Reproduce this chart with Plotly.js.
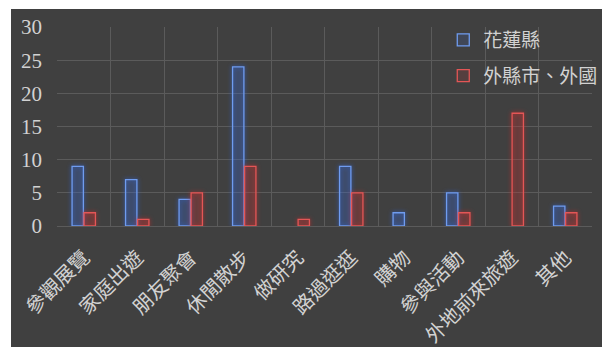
<!DOCTYPE html>
<html>
<head>
<meta charset="utf-8">
<script src="https://cdn.plot.ly/plotly-3.0.1.min.js"></script>
<style>
  html, body { margin: 0; padding: 0; background: #ffffff; overflow: hidden; }
  #chart { position: absolute; left: 11px; top: 9px; width: 630px; height: 338px; }
  /* soft glow around the outlined bars */
  .barlayer .trace:nth-child(1) .point path { filter: drop-shadow(0 0 2px #2f63d8); }
  .barlayer .trace:nth-child(2) .point path { filter: drop-shadow(0 0 2px #c42b2b); }
</style>
</head>
<body>
<div id="chart"></div>
<script>
// Purpose of the visit, by where the visitor came from
const categories = ['參觀展覽', '家庭出遊', '朋友聚會', '休閒散步', '做研究', '路過逛逛', '購物', '參與活動', '外地前來旅遊', '其他'];
const hualien = [9, 7, 4, 24, 0, 9, 2, 5, 0, 3];
const outside = [2, 1, 5, 9, 1, 5, 0, 2, 17, 2];
const seriesNames = ['花蓮縣', '外縣市、外國'];
const yTicks = [0, 5, 10, 15, 20, 25, 30];

const cjk = '"Noto Sans CJK TC", "Noto Sans CJK SC", sans-serif';
const labelColor = '#d2d2d2';
const gridColor = '#5b5b5b';

// no outline for empty bars, so a zero count leaves no mark
const outlineWidths = vals => vals.map(v => (v > 0 ? 1.3 : 0));

const traces = [
  {
    type: 'bar', name: seriesNames[0], x: categories, y: hualien,
    legendgroup: 'a',
    marker: { color: 'rgba(70,110,210,0.16)', line: { color: '#6f9cf0', width: outlineWidths(hualien) } }
  },
  {
    type: 'bar', name: seriesNames[1], x: categories, y: outside,
    legendgroup: 'b',
    marker: { color: 'rgba(200,60,60,0.16)', line: { color: '#e45656', width: outlineWidths(outside) } }
  }
];

// canvas is wider than the window; the right-hand strip past the plot is cut by the page edge
const layout = {
  width: 630, height: 338,
  margin: { l: 46, r: 49, t: 16, b: 121, pad: 0 },
  paper_bgcolor: '#404040',
  plot_bgcolor: '#404040',
  barmode: 'group',
  bargap: 0.55,
  bargroupgap: 0.06,
  showlegend: true,
  legend: {
    x: 0.722, y: 1.03, xanchor: 'left', yanchor: 'top',
    bgcolor: 'rgba(0,0,0,0)',
    font: { family: cjk, size: 19, color: labelColor },
    tracegroupgap: 8,
    itemwidth: 30
  },
  xaxis: {
    type: 'category',
    tickson: 'boundaries',
    showgrid: true, gridcolor: gridColor, gridwidth: 1,
    ticks: '', tickangle: -45, ticklabelstandoff: 15,
    tickfont: { family: cjk, size: 20, color: labelColor },
    showline: false, zeroline: false,
    automargin: false
  },
  yaxis: {
    range: [0, 30],
    tickvals: yTicks,
    showgrid: true, gridcolor: gridColor, gridwidth: 1,
    zeroline: true, zerolinecolor: gridColor, zerolinewidth: 1,
    ticks: '', ticklabelstandoff: 14,
    tickfont: { family: '"Liberation Serif", "DejaVu Serif", serif', size: 21, color: labelColor },
    automargin: false
  }
};

Plotly.newPlot('chart', traces, layout, { displayModeBar: false, staticPlot: true });
</script>
</body>
</html>
